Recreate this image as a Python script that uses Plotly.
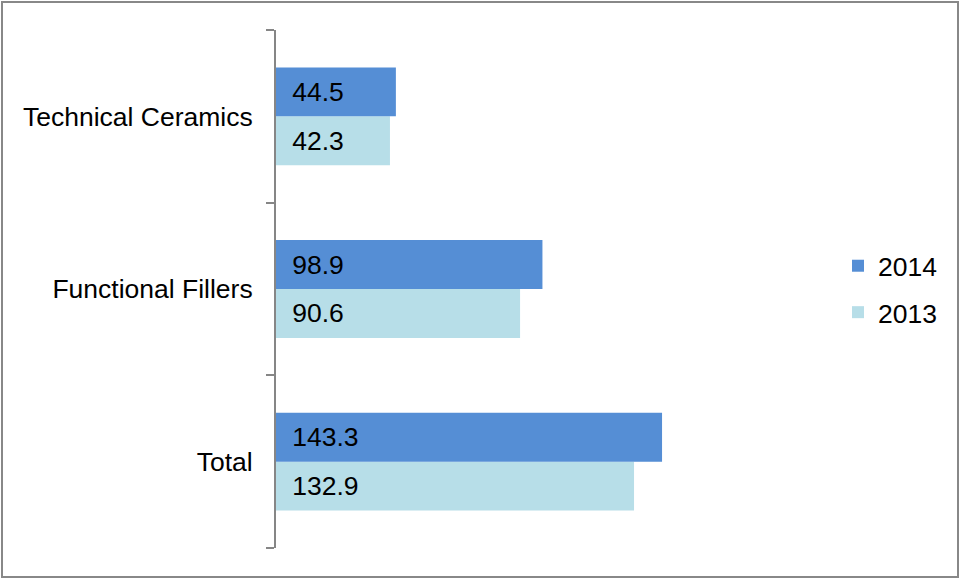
import plotly.graph_objects as go

categories = ["Total", "Functional Fillers", "Technical Ceramics"]
values_2013 = [132.9, 90.6, 42.3]
values_2014 = [143.3, 98.9, 44.5]

FONT = "Liberation Sans, Arial, sans-serif"
FS = 26.5
L, R, T, B = 276, 161, 30, 31
W, H = 961, 579
pw, ph = W - L - R, H - T - B

fig = go.Figure()
fig.add_trace(go.Bar(
    y=categories, x=values_2013, name="2013", orientation="h",
    marker=dict(color="#B7DEE8", line=dict(width=0)),
    text=values_2013, texttemplate="\u2002%{x}", textposition="inside",
    insidetextanchor="start", constraintext="none",
    textfont=dict(family=FONT, size=FS, color="black"),
    legendgroup="b", legendrank=2, hoverinfo="skip",
))
fig.add_trace(go.Bar(
    y=categories, x=values_2014, name="2014", orientation="h",
    marker=dict(color="#558ED5", line=dict(width=0)),
    text=values_2014, texttemplate="\u2002%{x}", textposition="inside",
    insidetextanchor="start", constraintext="none",
    textfont=dict(family=FONT, size=FS, color="black"),
    legendgroup="a", legendrank=1, hoverinfo="skip",
))

def px_x(p):
    return (p - L) / pw

def px_y(p):
    return (H - B - p) / ph

fig.update_layout(
    width=W, height=H,
    margin=dict(l=L, r=R, t=T, b=B, pad=0),
    paper_bgcolor="white", plot_bgcolor="white",
    barmode="group", bargap=0.433, bargroupgap=0,
    font=dict(family=FONT, size=FS, color="black"),
    xaxis=dict(range=[0, pw / 2.694], visible=False, showgrid=False, zeroline=False),
    yaxis=dict(
        showline=True, linecolor="#868686", linewidth=2,
        ticks="outside", tickson="boundaries", ticklen=8, tickwidth=2, tickcolor="#868686",
        showgrid=False, zeroline=False, ticklabelstandoff=16,
        tickfont=dict(family=FONT, size=FS, color="black"),
    ),
    legend=dict(
        x=px_x(838), xanchor="left", y=0.5, yanchor="middle",
        traceorder="grouped", tracegroupgap=9, itemwidth=30,
        font=dict(family=FONT, size=FS, color="black"),
        bgcolor="rgba(0,0,0,0)",
    ),
    shapes=[dict(
        type="rect", xref="paper", yref="paper",
        x0=px_x(2), x1=px_x(958), y0=px_y(577), y1=px_y(2),
        line=dict(color="#888888", width=2), layer="below",
    )],
)

fig.write_html(
    "out.html",
    config={"displayModeBar": False},
    post_script="document.body.style.margin='0';document.body.style.padding='0';",
)
